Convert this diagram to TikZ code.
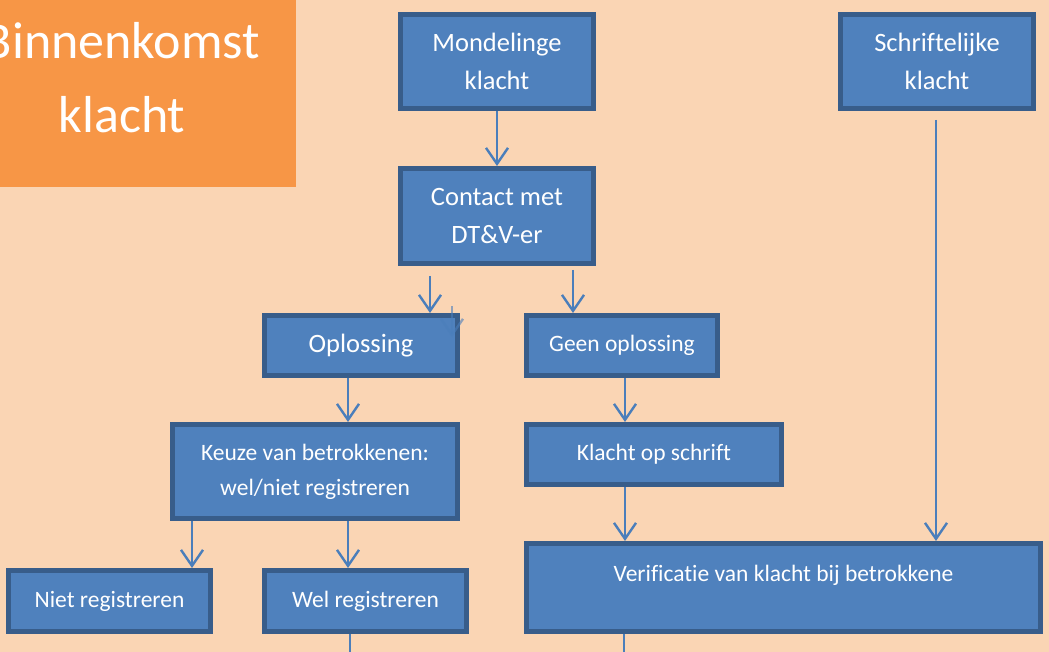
\documentclass[tikz,border=0pt]{standalone}
\usepackage{fontspec}
\setmainfont{Carlito}[Ligatures=CommonOff]
\usetikzlibrary{arrows.meta}
\definecolor{peach}{HTML}{FAD5B4}
\definecolor{orangebox}{HTML}{F79646}
\definecolor{bluefill}{HTML}{4F81BD}
\definecolor{blueline}{HTML}{385D8A}
\definecolor{arrowblue}{HTML}{4A7EBB}
\begin{document}
\begin{tikzpicture}[x=1pt, y=-1pt,
	box/.style={draw=blueline, fill=bluefill, line width=5pt, text=white, align=center, inner sep=0pt, font=\fontsize{23.5}{35}\selectfont},
	big/.style={box, font=\fontsize{26.5}{38}\selectfont},
	title/.style={fill=orangebox, text=white, align=center, inner sep=0pt, font=\fontsize{52}{74}\selectfont},
	link/.style={draw=arrowblue, line width=2.4pt},
	arr/.style={link, -{Straight Barb[length=16pt,width=22pt]}}]
		\fill[peach] (0,0) rectangle (1049,652);
		\useasboundingbox (0,0) rectangle (1049,652);
		\clip (0,0) rectangle (1049,652);

		\node[title, minimum width=348pt, minimum height=219pt] (titel) at (122,77.5) {Binnenkomst\\klacht};

		\node[big, minimum width=193pt, minimum height=94pt] (mond) at (497,61.5) {Mondelinge\\klacht};
		\node[big, minimum width=193pt, minimum height=94pt] (schrift) at (937,61.5) {Schriftelijke\\klacht};
		\node[big, minimum width=193pt, minimum height=95pt] (contact) at (497,216) {Contact met\\DT\&V-er};
		\node[big, minimum width=193pt, minimum height=60pt] (opl) at (361,345.5) {Oplossing};
		\node[box, minimum width=191pt, minimum height=60pt] (geen) at (622,345.5) {Geen oplossing};
		\node[box, minimum width=285pt, minimum height=94pt] (keuze) at (315,471.5) {Keuze van betrokkenen:\\wel/niet registreren};
		\node[box, minimum width=255pt, minimum height=60pt] (opschrift) at (654,454.5) {Klacht op schrift};
		\node[box, minimum width=202pt, minimum height=61pt] (niet) at (109.5,601) {Niet registreren};
		\node[box, minimum width=202pt, minimum height=61pt] (wel) at (365.5,601) {Wel registreren};
		\node[box, minimum width=514pt, text height=37.5pt, text depth=50.5pt] (verif) at (783.5,587.5) {Verificatie van klacht bij betrokkene};

		\coordinate (welout) at (350,660);
		\coordinate (verifout) at (624,660);

		\draw[arr] (mond) -- (contact);
		\draw[arr] ([xshift=-67pt,yshift=-10pt]contact.south) -- ([xshift=69pt]opl.north);
		\draw[arr] ([xshift=76pt,yshift=-4pt]contact.south) -- ([xshift=-49pt]geen.north);
		\draw[arr, opacity=0.6] ([xshift=91pt,yshift=7pt]opl.north) -- ([xshift=91pt,yshift=-24pt]opl.north);
		\draw[arr] ([xshift=-13pt]opl.south) -- ([xshift=33pt]keuze.north);
		\draw[arr] ([xshift=3pt]geen.south) -- ([xshift=-29pt]opschrift.north);
		\draw[arr] ([xshift=-123pt]keuze.south) -- ([xshift=82.5pt]niet.north);
		\draw[arr] ([xshift=33pt]keuze.south) -- ([xshift=-17.5pt]wel.north);
		\draw[arr] ([xshift=-29pt]opschrift.south) -- ([xshift=-158.5pt]verif.north);
		\draw[arr] ([xshift=-1pt,yshift=-9pt]schrift.south) -- ([xshift=152.5pt]verif.north);
		\draw[link] ([xshift=-15.5pt]wel.south) -- (welout);
		\draw[link] ([xshift=-159.5pt]verif.south) -- (verifout);
	\end{tikzpicture}
\end{document}
